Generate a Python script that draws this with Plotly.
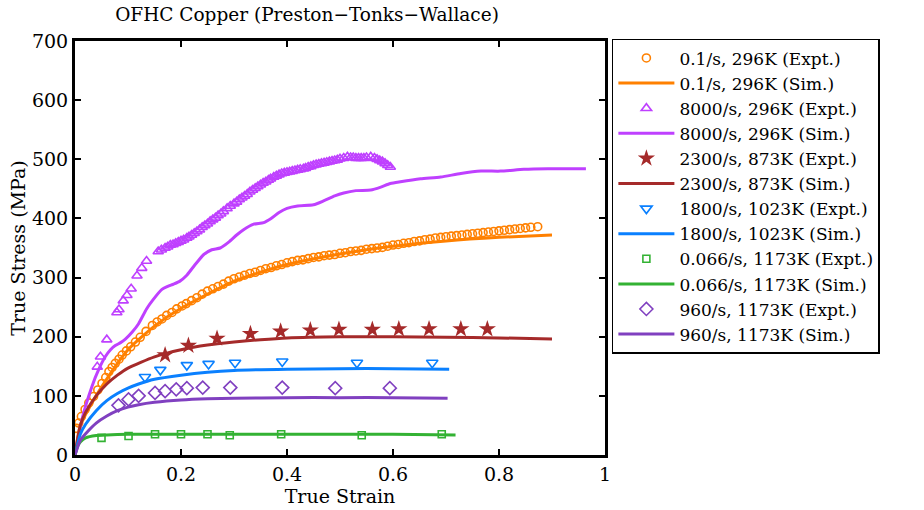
import plotly.graph_objects as go

# ---------------- data ----------------
# 0.1/s, 296K experiment
o_ex_x = [0.003, 0.007, 0.012, 0.019, 0.026, 0.035, 0.043, 0.051, 0.058, 0.064, 0.070, 0.076,
          0.083, 0.089, 0.097, 0.105, 0.114, 0.123, 0.134, 0.146, 0.155, 0.164, 0.173, 0.183,
          0.192, 0.202, 0.21, 0.22, 0.23, 0.24, 0.25, 0.26, 0.27, 0.28, 0.29, 0.30, 0.31, 0.32,
          0.33, 0.34, 0.35, 0.36, 0.37, 0.38, 0.39, 0.40, 0.41, 0.42, 0.43, 0.44, 0.45, 0.46,
          0.47, 0.48, 0.49, 0.50, 0.51, 0.52, 0.53, 0.54, 0.55, 0.56, 0.57, 0.58, 0.59, 0.60,
          0.61, 0.62, 0.63, 0.64, 0.65, 0.66, 0.67, 0.68, 0.69, 0.70, 0.71, 0.72, 0.73, 0.74,
          0.75, 0.76, 0.77, 0.78, 0.79, 0.80, 0.81, 0.82, 0.83, 0.84, 0.85, 0.86, 0.873]
o_ex_y = [45, 54, 65, 77, 88, 99, 110, 121, 131, 141, 148, 155, 162, 169, 176, 183, 191, 199,
          209, 219, 225, 230, 236, 241, 247, 252, 256, 261, 266, 272, 277, 281, 285, 289, 294,
          298, 301, 304, 307, 309, 312, 315, 317, 320, 322, 325, 327, 329, 330, 332, 334, 335,
          337, 338, 339, 341, 342, 344, 345, 346, 348, 349, 350, 351, 353, 355, 356, 358, 359,
          361, 362, 364, 365, 367, 368, 369, 370, 371, 372, 373, 374, 375, 376, 377, 378, 379,
          380, 381, 382, 383, 384, 385, 386]
# 0.1/s, 296K simulation
o_sim_x = [0, 0.01, 0.03, 0.05, 0.1, 0.15, 0.2, 0.3, 0.4, 0.5, 0.6, 0.7, 0.8, 0.9]
o_sim_y = [0, 50, 85, 115, 178, 218, 248, 294, 322, 340, 353, 362, 368, 372]

# 8000/s, 296K experiment
p_ex_x = [0.042, 0.048, 0.060, 0.079, 0.083, 0.091, 0.098, 0.106, 0.117, 0.126, 0.135,
          0.157, 0.163, 0.17, 0.175, 0.18, 0.185, 0.19, 0.195, 0.20, 0.205, 0.211, 0.215,
          0.22, 0.225, 0.23, 0.235, 0.24, 0.245, 0.25, 0.255, 0.26, 0.265, 0.27, 0.275, 0.28,
          0.287, 0.293, 0.30, 0.305, 0.31, 0.315, 0.32, 0.325, 0.33, 0.335, 0.34, 0.345, 0.35,
          0.355, 0.36, 0.365, 0.369, 0.375, 0.38, 0.385, 0.39, 0.395, 0.40, 0.405, 0.41,
          0.415, 0.42, 0.425, 0.431, 0.435, 0.44, 0.445, 0.45, 0.455, 0.46, 0.465, 0.47,
          0.475, 0.48, 0.485, 0.49, 0.495, 0.50, 0.507, 0.514, 0.52, 0.525, 0.53, 0.535,
          0.54, 0.545, 0.55, 0.558, 0.565, 0.57, 0.575, 0.58, 0.585, 0.59, 0.595]
p_ex_y = [149, 166, 195, 241, 246, 261, 270, 281, 303, 316, 328,
          344, 347, 350, 352, 355, 356, 358, 360, 362, 364, 367, 369,
          372, 375, 378, 381, 385, 388, 391, 395, 398, 401, 405, 408, 412,
          417, 421, 425, 428, 432, 435, 438, 441, 445, 448, 451, 454, 457,
          460, 462, 465, 467, 470, 472, 474, 476, 477, 478, 479, 480,
          481, 482, 483, 484, 485, 487, 488, 490, 491, 492, 493, 494,
          495, 496, 497, 498, 499, 501, 502, 504, 503, 503, 502, 502,
          502, 502, 503, 504, 502, 500, 498, 496, 493, 490, 487]
# 8000/s, 296K simulation
p_sim_x = [0, 0.013, 0.032, 0.045, 0.057, 0.067, 0.076, 0.086, 0.095, 0.108, 0.120, 0.135,
           0.146, 0.164, 0.175, 0.186, 0.198, 0.21, 0.225, 0.243, 0.258, 0.274, 0.29, 0.305,
           0.318, 0.336, 0.356, 0.37, 0.385, 0.40, 0.42, 0.45, 0.47, 0.49, 0.507, 0.53, 0.558,
           0.577, 0.595, 0.614, 0.652, 0.69, 0.728, 0.766, 0.803, 0.847, 0.892, 0.964]
p_sim_y = [0, 60, 116, 145, 166, 178, 185, 190, 196, 208, 222, 247,
           261, 280, 285, 289, 294, 303, 320, 339, 347, 350, 360, 372,
           381, 390, 393, 400, 410, 417, 421, 423, 430, 438, 443, 447, 448,
           453, 459, 462, 467, 470, 476, 480, 480, 483, 484, 484]

# 2300/s, 873K experiment
b_ex_x = [0.170, 0.214, 0.268, 0.331, 0.388, 0.444, 0.498, 0.561, 0.611, 0.668, 0.728, 0.778]
b_ex_y = [169, 185, 197, 205, 209, 211, 212, 212, 213, 213, 213, 213]
# 2300/s, 873K simulation
b_sim_x = [0, 0.01, 0.02, 0.04, 0.06, 0.08, 0.1, 0.15, 0.2, 0.25, 0.3, 0.35, 0.4, 0.5, 0.6,
           0.7, 0.8, 0.9]
b_sim_y = [0, 50, 72, 100, 120, 135, 147, 166, 178, 186, 191, 195, 198, 200, 200, 199, 198,
           196]

# 1800/s, 1023K experiment
c_ex_x = [0.132, 0.161, 0.211, 0.252, 0.302, 0.391, 0.532, 0.674]
c_ex_y = [132, 144, 152, 154, 156, 158, 156, 156]
# 1800/s, 1023K simulation
c_sim_x = [0, 0.01, 0.02, 0.04, 0.06, 0.08, 0.1, 0.12, 0.15, 0.2, 0.25, 0.3, 0.4, 0.5, 0.6,
           0.706]
c_sim_y = [0, 35, 52, 75, 92, 104, 113, 120, 128, 135, 140, 143, 145, 146, 146, 145]

# 0.066/s, 1173K experiment
g_ex_x = [0.050, 0.101, 0.151, 0.200, 0.250, 0.292, 0.389, 0.541, 0.692]
g_ex_y = [29, 32, 35, 35, 35, 33.5, 35, 33.5, 35]
# 0.066/s, 1173K simulation
g_sim_x = [0, 0.005, 0.01, 0.02, 0.04, 0.06, 0.1, 0.2, 0.3, 0.4, 0.5, 0.6, 0.718]
g_sim_y = [0, 15, 22, 29, 33, 34, 35, 35, 35, 35, 35, 35, 34]

# 960/s, 1173K experiment
d_ex_x = [0.082, 0.101, 0.120, 0.151, 0.170, 0.191, 0.211, 0.241, 0.293, 0.391, 0.491, 0.594]
d_ex_y = [84, 94, 100, 105, 108, 111, 113, 114, 114, 114, 113, 113]
# 960/s, 1173K simulation
d_sim_x = [0, 0.01, 0.02, 0.04, 0.06, 0.08, 0.1, 0.12, 0.15, 0.2, 0.25, 0.3, 0.4, 0.5, 0.6,
           0.703]
d_sim_y = [0, 25, 36, 54, 66, 75, 81, 85, 89, 93, 95, 96, 97, 97, 97, 96]

# ---------------- styles ----------------
ORANGE = "#FF8000"
VIOLET = "#BF40FF"
BROWN = "#A52A2A"
BLUE = "#0A80FF"
GREEN = "#33B233"
PURPLE = "#8040C0"
FONT = "DejaVu Serif"

fig = go.Figure()


def expt(x, y, name, color, symbol, size, lw=1.6):
    fig.add_trace(go.Scatter(x=x, y=y, mode="markers", name=name,
                             marker=dict(symbol=symbol, size=size, color=color,
                                         line=dict(color=color, width=lw))))


def sim(x, y, name, color):
    fig.add_trace(go.Scatter(x=x, y=y, mode="lines", name=name,
                             line=dict(color=color, width=3, shape="spline", smoothing=0.6)))


expt(o_ex_x, o_ex_y, "0.1/s, 296K (Expt.)", ORANGE, "circle-open", 8)
sim(o_sim_x, o_sim_y, "0.1/s, 296K (Sim.)", ORANGE)
expt(p_ex_x, p_ex_y, "8000/s, 296K (Expt.)", VIOLET, "triangle-up-open", 9)
sim(p_sim_x, p_sim_y, "8000/s, 296K (Sim.)", VIOLET)
expt(b_ex_x, b_ex_y, "2300/s, 873K (Expt.)", BROWN, "star", 13, 0)
sim(b_sim_x, b_sim_y, "2300/s, 873K (Sim.)", BROWN)
expt(c_ex_x, c_ex_y, "1800/s, 1023K (Expt.)", BLUE, "triangle-down-open", 10)
sim(c_sim_x, c_sim_y, "1800/s, 1023K (Sim.)", BLUE)
expt(g_ex_x, g_ex_y, "0.066/s, 1173K (Expt.)", GREEN, "square-open", 7)
sim(g_sim_x, g_sim_y, "0.066/s, 1173K (Sim.)", GREEN)
expt(d_ex_x, d_ex_y, "960/s, 1173K (Expt.)", PURPLE, "diamond-open", 10)
sim(d_sim_x, d_sim_y, "960/s, 1173K (Sim.)", PURPLE)

axis_common = dict(showline=True, linewidth=3, linecolor="black", mirror="ticks",
                   ticks="inside", ticklen=6, tickwidth=2, tickcolor="black",
                   showgrid=False, zeroline=False,
                   tickfont=dict(family=FONT, size=19, color="black"))

fig.update_layout(
    width=924, height=510,
    margin=dict(l=75, r=319, t=41, b=51),
    paper_bgcolor="white", plot_bgcolor="white",
    font=dict(family=FONT, color="black"),
    title=dict(text="OFHC Copper (Preston\u2212Tonks\u2212Wallace)",
               x=307 / 924, xref="container", xanchor="center",
               y=1 - 15 / 510, yref="container", yanchor="middle",
               font=dict(family=FONT, size=18.5, color="black")),
    xaxis=dict(range=[0, 1], dtick=0.2, tick0=0,
               title=dict(text="True Strain", standoff=0,
                          font=dict(family=FONT, size=19, color="black")),
               **axis_common),
    yaxis=dict(range=[0, 700], dtick=100, tick0=0,
               title=dict(text="True Stress (MPa)", standoff=2,
                          font=dict(family=FONT, size=19, color="black")),
               **axis_common),
    legend=dict(x=1.013, y=1.005, xanchor="left", yanchor="top",
                bordercolor="black", borderwidth=1.5, bgcolor="white",
                font=dict(family=FONT, size=17, color="black"),
                tracegroupgap=0, itemwidth=56, maxheight=480),
    showlegend=True,
)

fig.write_html("out.html")
